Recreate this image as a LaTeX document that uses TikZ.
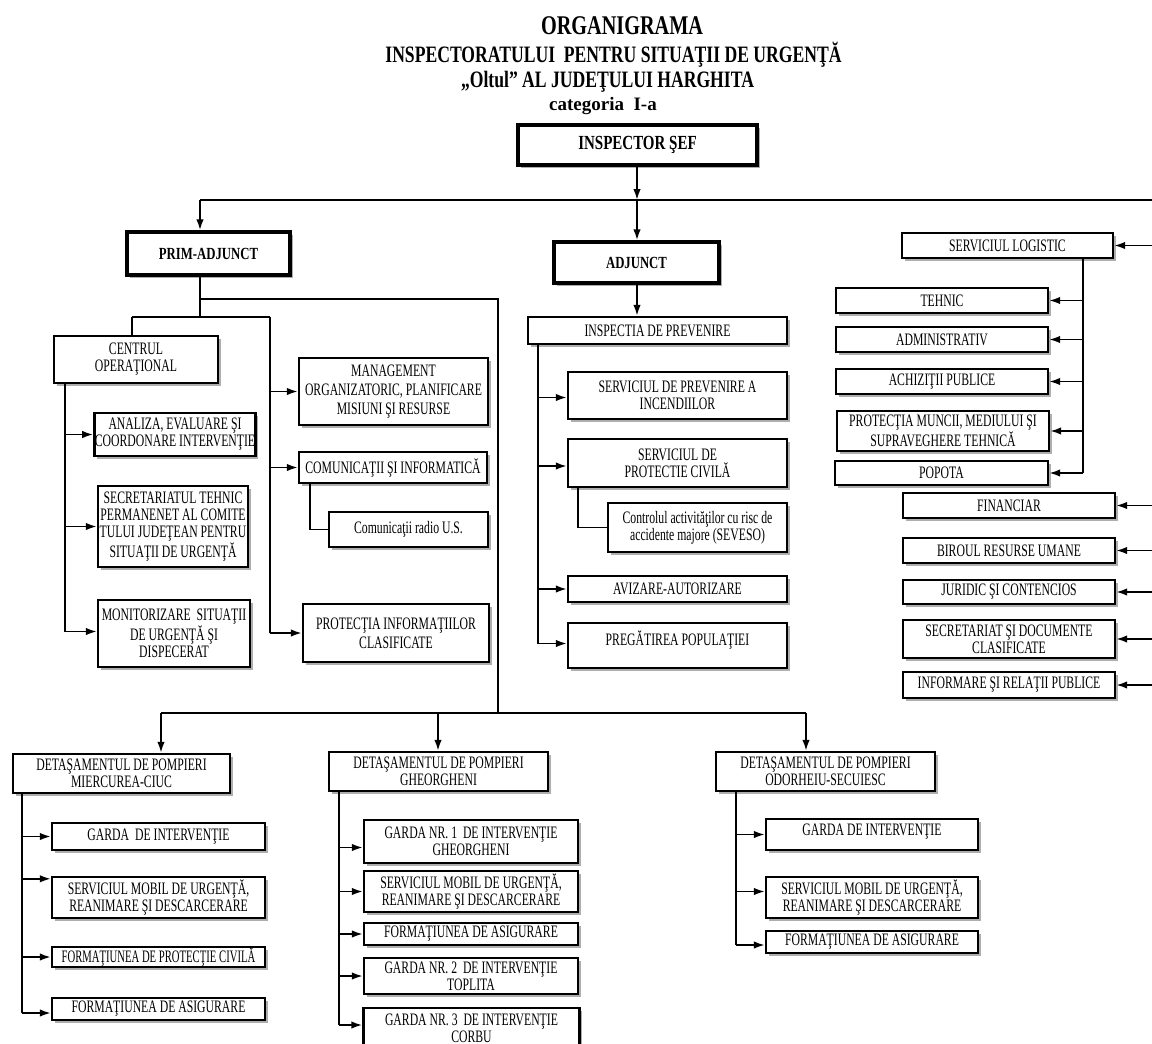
\documentclass[tikz,border=0pt]{standalone}
\usepackage{fontspec}
\setmainfont{Liberation Serif}[FakeStretch=0.75]
\newfontfamily\plainserif{Liberation Serif}
\newfontfamily\boxfam{Liberation Serif}[FakeStretch=0.67]
\newfontfamily\narrowfam{Liberation Serif}[FakeStretch=0.61]
\usetikzlibrary{arrows.meta,shadows}
\newcommand\bxf{\boxfam\fontsize{17.5}{17}\selectfont}
\newcommand\nbxf{\narrowfam\fontsize{17.5}{17}\selectfont}
\tikzset{
  rbox/.style={draw=black, line width=2.4pt, fill=white, align=center, inner sep=0.5pt,
    font=\bxf, drop shadow={shadow xshift=2.5pt, shadow yshift=-2.5pt, fill=black!45, opacity=0.7}},
  hbox/.style={rbox, line width=3.4pt},
  conn/.style={line width=1.8pt},
  arr/.style={conn, -{Latex[length=11pt,width=7.5pt]}},
  ttl/.style={inner sep=0pt, font=\bfseries}
}
\begin{document}
\begin{tikzpicture}[x=1pt,y=-1pt]
\useasboundingbox[fill=white] (0,0) rectangle (1152,1044);

% titles
\node[ttl, font=\bfseries\fontsize{27}{30}\selectfont] (t1) at (622,26) {ORGANIGRAMA};
\node[ttl, font=\bfseries\fontsize{23.5}{26}\selectfont] (t2) at (613.5,55) {INSPECTORATULUI\ \ PENTRU SITUAŢII DE URGENŢĂ};
\node[ttl, font=\bfseries\fontsize{23.5}{26}\selectfont] (t3) at (607.5,82) {„Oltul” AL JUDEŢULUI HARGHITA};
\node[ttl, font=\plainserif\bfseries\fontsize{19}{21}\selectfont] (t4) at (603,106) {categoria\ \ I-a};

% top level
\node[hbox, minimum width=239pt, minimum height=40pt, font=\bfseries\fontsize{20}{22}\selectfont] (insp) at (637.5,145) {INSPECTOR ŞEF};
\node[hbox, minimum width=163pt, minimum height=43pt, font=\bfseries\fontsize{17}{19}\selectfont] (prim) at (208.5,253.5) {PRIM-ADJUNCT};
\node[hbox, minimum width=165pt, minimum height=41pt, font=\bfseries\fontsize{17}{19}\selectfont] (adj) at (636.5,262.5) {ADJUNCT};

% prim-adjunct branch
\node[rbox, minimum width=164pt, minimum height=47pt] (centru) at (136,359.5) {CENTRUL\\OPERAŢIONAL};
\node[rbox, minimum width=154pt, minimum height=43pt] (analiza) at (175,434.5) {ANALIZA, EVALUARE ŞI\\COORDONARE INTERVENŢIE};
\node[rbox, minimum width=150pt, minimum height=81pt] (secret) at (173,526.5) {SECRETARIATUL TEHNIC\\PERMANENET AL COMITE\\TULUI JUDEŢEAN PENTRU\\SITUAŢII DE URGENŢĂ};
\node[rbox, minimum width=152pt, minimum height=67pt] (monit) at (174,633.5) {MONITORIZARE\ \ SITUAŢII\\DE URGENŢĂ ŞI\\DISPECERAT};
\node[rbox, minimum width=189pt, minimum height=67pt, font=\boxfam\fontsize{17.5}{19}\selectfont] (manag) at (393.5,391.5) {MANAGEMENT\\ORGANIZATORIC, PLANIFICARE\\MISIUNI ŞI RESURSE};
\node[rbox, minimum width=188pt, minimum height=31pt] (comun) at (393,467.5) {COMUNICAŢII ŞI INFORMATICĂ};
\node[rbox, minimum width=159pt, minimum height=35pt] (radio) at (408.5,529.5) {Comunicaţii radio U.S.};
\node[rbox, minimum width=186pt, minimum height=58pt, font=\boxfam\fontsize{17.5}{19}\selectfont] (protinf) at (396,633) {PROTECŢIA INFORMAŢIILOR\\CLASIFICATE};

% adjunct branch
\node[rbox, minimum width=259pt, minimum height=27pt] (inspprev) at (657.5,330.5) {INSPECTIA DE PREVENIRE};
\node[rbox, minimum width=219pt, minimum height=47pt] (servprev) at (677.5,395.5) {SERVICIUL DE PREVENIRE A\\INCENDIILOR};
\node[rbox, minimum width=219pt, minimum height=48pt] (servpc) at (677.5,463) {SERVICIUL DE\\PROTECTIE CIVILĂ};
\node[rbox, minimum width=179pt, minimum height=49pt] (control) at (697.5,527.5) {Controlul activităţilor cu risc de\\accidente majore (SEVESO)};
\node[rbox, minimum width=219pt, minimum height=26pt] (aviz) at (677.5,589) {AVIZARE-AUTORIZARE};
\node[rbox, minimum width=219pt, minimum height=45pt, text depth=15pt] (pregat) at (677.5,645.5) {PREGĂTIREA POPULAŢIEI};

% right column
\node[rbox, minimum width=211pt, minimum height=25pt] (servlog) at (1007.5,245.5) {SERVICIUL LOGISTIC};
\node[rbox, minimum width=212pt, minimum height=25pt] (tehnic) at (942,300.5) {TEHNIC};
\node[rbox, minimum width=212pt, minimum height=25pt] (admin) at (942,339.5) {ADMINISTRATIV};
\node[rbox, minimum width=212pt, minimum height=25pt] (achiz) at (942,381.5) {ACHIZIŢII PUBLICE};
\node[rbox, minimum width=212pt, minimum height=40pt] (protm) at (943,431) {PROTECŢIA MUNCII, MEDIULUI ŞI\\SUPRAVEGHERE TEHNICĂ};
\node[rbox, minimum width=213pt, minimum height=24pt] (popota) at (941.5,473) {POPOTA};
\node[rbox, minimum width=212pt, minimum height=25pt] (financ) at (1009,505.5) {FINANCIAR};
\node[rbox, minimum width=212pt, minimum height=25pt] (birou) at (1009,550.5) {BIROUL RESURSE UMANE};
\node[rbox, minimum width=212pt, minimum height=24pt] (juridic) at (1009,592) {JURIDIC ŞI CONTENCIOS};
\node[rbox, minimum width=212pt, minimum height=38pt] (secdoc) at (1009,639) {SECRETARIAT ŞI DOCUMENTE\\CLASIFICATE};
\node[rbox, minimum width=212pt, minimum height=26pt] (inform) at (1009,685) {INFORMARE ŞI RELAŢII PUBLICE};

% detachments
\node[rbox, minimum width=217pt, minimum height=39pt] (det1) at (121.5,773.5) {DETAŞAMENTUL DE POMPIERI\\MIERCUREA-CIUC};
\node[rbox, minimum width=213pt, minimum height=27pt] (d1a) at (158.5,836.5) {GARDA\ \ DE INTERVENŢIE};
\node[rbox, minimum width=213pt, minimum height=41pt] (d1b) at (158.5,897.5) {SERVICIUL MOBIL DE URGENŢĂ,\\REANIMARE ŞI DESCARCERARE};
\node[rbox, minimum width=213pt, minimum height=20pt, font=\nbxf] (d1c) at (158.5,957) {FORMAŢIUNEA DE PROTECŢIE CIVILĂ};
\node[rbox, minimum width=213pt, minimum height=22pt] (d1d) at (158.5,1009) {FORMAŢIUNEA DE ASIGURARE};

\node[rbox, minimum width=219pt, minimum height=39pt] (det2) at (438.5,771.5) {DETAŞAMENTUL DE POMPIERI\\GHEORGHENI};
\node[rbox, minimum width=214pt, minimum height=43pt] (d2a) at (471,841.5) {GARDA NR. 1\ \ DE INTERVENŢIE\\GHEORGHENI};
\node[rbox, minimum width=214pt, minimum height=41pt] (d2b) at (471,891.5) {SERVICIUL MOBIL DE URGENŢĂ,\\REANIMARE ŞI DESCARCERARE};
\node[rbox, minimum width=214pt, minimum height=22pt] (d2c) at (471,934) {FORMAŢIUNEA DE ASIGURARE};
\node[rbox, minimum width=214pt, minimum height=36pt] (d2d) at (471,976) {GARDA NR. 2\ \ DE INTERVENŢIE\\TOPLITA};
\node[rbox, minimum width=216pt, minimum height=40pt] (d2e) at (471.5,1028) {GARDA NR. 3\ \ DE INTERVENŢIE\\CORBU};

\node[rbox, minimum width=219pt, minimum height=39pt] (det3) at (825.5,771.5) {DETAŞAMENTUL DE POMPIERI\\ODORHEIU-SECUIESC};
\node[rbox, minimum width=212pt, minimum height=31pt, text depth=10pt] (d3a) at (872,834.5) {GARDA DE INTERVENŢIE};
\node[rbox, minimum width=212pt, minimum height=41pt] (d3b) at (872,897.5) {SERVICIUL MOBIL DE URGENŢĂ,\\REANIMARE ŞI DESCARCERARE};
\node[rbox, minimum width=212pt, minimum height=22pt] (d3c) at (872,942) {FORMAŢIUNEA DE ASIGURARE};

% ---------- connectors ----------
\coordinate (busL) at (200,200);
\coordinate (busM) at (637,200);
\coordinate (busR) at (1153,200);
\draw[arr] (insp.south -| busM) -- (busM);
\draw[conn] (busL) -- (busR);
\draw[arr] (busL) -- (busL |- prim.north);
\draw[arr] (busM) -- (busM |- adj.north);
\draw[conn] (busR) -- (busR |- inform.east);
\foreach \n in {servlog,financ,birou,juridic,secdoc,inform}
  \draw[arr] (busR |- \n.east) -- (\n.east);

% prim-adjunct
\coordinate (p1) at (200,317);
\coordinate (pL) at (132,317);
\coordinate (pR) at (270,317);
\coordinate (p2) at (200,299);
\coordinate (p2r) at (498,299);
\draw[conn] (prim.south -| p1) -- (p1);
\draw[conn] (pL) -- (pR);
\draw[conn] (pL) -- (pL |- centru.north);
\draw[conn] (pR) -- (pR |- protinf.west);
\foreach \n in {manag,comun,protinf}
  \draw[arr] (pR |- \n.west) -- (\n.west);
\coordinate (cv) at (65,0);
\draw[conn] (centru.south -| cv) -- ([yshift=2pt]cv |- monit.west);
\draw[arr] (cv |- analiza.west) -- (analiza.west);
\draw[arr] (cv |- secret.west) -- (secret.west);
\draw[arr] ([yshift=2pt]cv |- monit.west) -- ([yshift=2pt]monit.west);
\coordinate (rv) at (310,0);
\draw[conn] (comun.south -| rv) -- (rv |- radio.west) -- (radio.west);

% detachments bus
\coordinate (dbus) at (498,713);
\coordinate (dL) at (161,713);
\coordinate (dM) at (438,713);
\coordinate (dR) at (806,713);
\draw[conn] (p2) -- (p2r) -- (dbus);
\draw[conn] (dL) -- (dR);
\draw[arr] (dL) -- (dL |- det1.north);
\draw[arr] (dM) -- (dM |- det2.north);
\draw[arr] (dR) -- (dR |- det3.north);

% adjunct
\draw[arr] (adj.south -| busM) -- (busM |- inspprev.north);
\coordinate (iv) at (538,0);
\draw[conn] (inspprev.south -| iv) -- ([yshift=2pt]iv |- pregat.west);
\draw[arr] ([yshift=-2pt]iv |- servprev.west) -- ([yshift=-2pt]servprev.west);
\draw[arr] ([yshift=-3pt]iv |- servpc.west) -- ([yshift=-3pt]servpc.west);
\draw[arr] (iv |- aviz.west) -- (aviz.west);
\draw[arr] ([yshift=2pt]iv |- pregat.west) -- ([yshift=2pt]pregat.west);
\coordinate (sv) at (578,0);
\draw[conn] (servpc.south -| sv) -- (sv |- control.west) -- (control.west);

% logistic
\coordinate (lv) at (1083,0);
\draw[conn] (servlog.south -| lv) -- (lv |- popota.east);
\foreach \n in {tehnic,admin,achiz,protm,popota}
  \draw[arr] (lv |- \n.east) -- (\n.east);

% detachment 1
\coordinate (v1) at (22,0);
\draw[conn] (det1.south -| v1) -- ([yshift=-4pt]v1 |- d1d.west);
\draw[arr] (v1 |- d1a.west) -- (d1a.west);
\draw[arr] ([yshift=-3pt]v1 |- d1b.north west) -- ([yshift=-3pt]d1b.north west);
\draw[arr] (v1 |- d1c.west) -- (d1c.west);
\draw[arr] ([yshift=-4pt]v1 |- d1d.west) -- ([yshift=-4pt]d1d.west);

% detachment 2
\coordinate (v2) at (339,0);
\draw[conn] (det2.south -| v2) -- ([yshift=3pt]v2 |- d2e.west);
\draw[arr] ([yshift=-6pt]v2 |- d2a.west) -- ([yshift=-6pt]d2a.west);
\draw[arr] (v2 |- d2b.west) -- (d2b.west);
\draw[arr] (v2 |- d2c.west) -- (d2c.west);
\draw[arr] (v2 |- d2d.west) -- (d2d.west);
\draw[arr] ([yshift=3pt]v2 |- d2e.west) -- ([yshift=3pt]d2e.west);

% detachment 3
\coordinate (v3) at (736,0);
\draw[conn] (det3.south -| v3) -- ([yshift=-3pt]v3 |- d3c.west);
\draw[arr] (v3 |- d3a.west) -- (d3a.west);
\draw[arr] ([yshift=6pt]v3 |- d3b.west) -- ([yshift=6pt]d3b.west);
\draw[arr] ([yshift=-3pt]v3 |- d3c.west) -- ([yshift=-3pt]d3c.west);
\end{tikzpicture}
\end{document}
